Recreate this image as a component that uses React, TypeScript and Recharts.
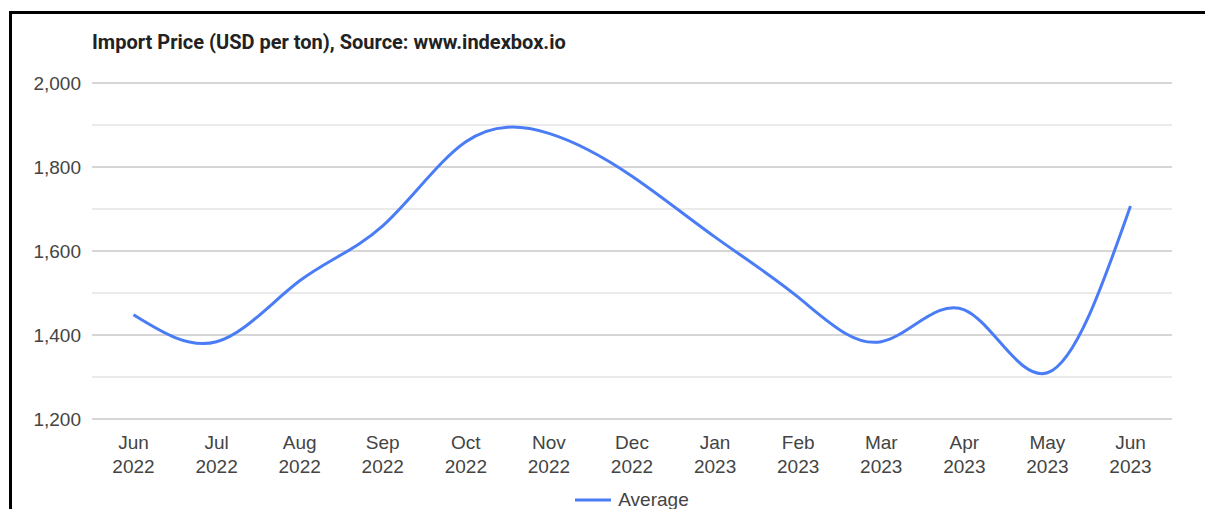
import React from 'react'
import {
  LineChart,
  Line,
  XAxis,
  YAxis,
  CartesianGrid,
  ReferenceLine,
  Legend,
} from 'recharts'

const months = ['Jun', 'Jul', 'Aug', 'Sep', 'Oct', 'Nov', 'Dec', 'Jan', 'Feb', 'Mar', 'Apr', 'May', 'Jun']
const years = ['2022', '2022', '2022', '2022', '2022', '2022', '2022', '2023', '2023', '2023', '2023', '2023', '2023']
const averagePrice = [1448, 1384, 1529, 1660, 1860, 1880, 1778, 1633, 1490, 1384, 1460, 1310, 1707]

const yTicks = [1200, 1300, 1400, 1500, 1600, 1700, 1800, 1900, 2000]
const majorTicks = [1200, 1400, 1600, 1800, 2000]

const data = months.map((m, i) => ({
  label: `${m} ${years[i]}`,
  month: m,
  year: years[i],
  average: averagePrice[i],
}))

const LINE_COLOR = '#4a7df5'
const LABEL_FONT = 'Arial, "Liberation Sans", sans-serif'

const MonthTick = (props: any) => {
  const { x, y, index } = props
  return (
    <text x={x} y={y} textAnchor="middle" fill="#444" fontSize={19} fontFamily={LABEL_FONT}>
      <tspan x={x} dy={30}>{months[index]}</tspan>
      <tspan x={x} dy={24}>{years[index]}</tspan>
    </text>
  )
}

const LegendContent = () => (
  <div style={{ display: 'flex', justifyContent: 'center', alignItems: 'center', height: 30 }}>
    <svg width={36} height={6} style={{ marginRight: 7 }}>
      <line x1={0} y1={3} x2={36} y2={3} stroke={LINE_COLOR} strokeWidth={3} />
    </svg>
    <span style={{ fontFamily: LABEL_FONT, fontSize: 19, color: '#444' }}>Average</span>
  </div>
)

export default function App() {
  return (
    <div
      style={{
        position: 'relative',
        marginTop: 3,
        marginLeft: 1,
        width: 1201,
        height: 495,
        borderTop: '3px solid #000',
        borderLeft: '3px solid #000',
        background: '#fff',
        overflow: 'hidden',
      }}
    >
      <div
        style={{
          position: 'absolute',
          left: 80,
          top: 17,
          lineHeight: '22px',
          fontFamily: 'Roboto, sans-serif',
          fontWeight: 700,
          fontSize: 20,
          color: '#222',
          zIndex: 1,
        }}
      >
        Import Price (USD per ton), Source: www.indexbox.io
      </div>
      <LineChart
        width={1200}
        height={495}
        data={data}
        margin={{ top: 69, right: 40, left: 0, bottom: 0 }}
      >
        <CartesianGrid vertical={false} stroke="#ebebeb" strokeWidth={2} />
        {majorTicks.map(v => (
          <ReferenceLine key={v} y={v} stroke="#d6d6d6" strokeWidth={2} />
        ))}
        <XAxis
          dataKey="label"
          axisLine={false}
          tickLine={false}
          tickSize={0}
          tickMargin={0}
          height={60}
          interval={0}
          padding={{ left: 41.5, right: 41.5 }}
          tick={<MonthTick />}
        />
        <YAxis
          domain={[1200, 2000]}
          ticks={yTicks}
          width={80}
          axisLine={false}
          tickLine={false}
          tickSize={0}
          tickMargin={11}
          tick={{ fill: '#444', fontSize: 19, fontFamily: LABEL_FONT }}
          tickFormatter={(v: number) => (v % 200 === 0 ? v.toLocaleString('en-US') : '')}
        />
        <Legend
          verticalAlign="bottom"
          content={<LegendContent />}
          wrapperStyle={{ left: 80, width: 1080, height: 30, bottom: -6 }}
        />
        <Line
          type="natural"
          dataKey="average"
          name="Average"
          stroke={LINE_COLOR}
          strokeWidth={3}
          dot={false}
          activeDot={false}
          isAnimationActive={false}
        />
      </LineChart>
    </div>
  )
}
